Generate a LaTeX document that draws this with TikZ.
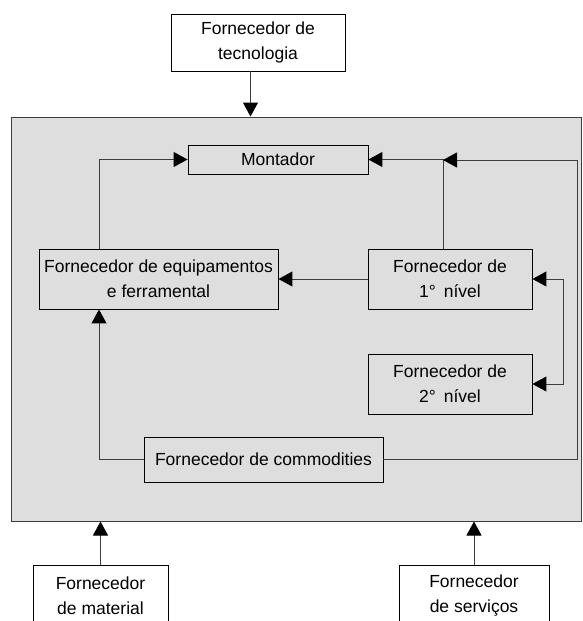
\documentclass[tikz,border=0pt]{standalone}
\usepackage{fontspec}
\setmainfont{Liberation Sans}
\usetikzlibrary{arrows.meta}
\definecolor{panel}{RGB}{222,222,222}
\definecolor{linegray}{RGB}{60,60,60}
\tikzset{
  box/.style={draw=black, line width=0.9pt, rectangle, align=center, inner sep=0pt,
    font=\fontsize{17.5}{25}\selectfont},
  conn/.style={draw=linegray, line width=1pt},
  >={Triangle[length=14pt,width=15pt,color=black]}
}
\begin{document}
\begin{tikzpicture}[x=1pt,y=-1pt]
\clip (0,0) rectangle (583,621);
\fill[white] (0,0) rectangle (583,621);
% main panel
\node[draw=linegray, fill=panel, line width=1pt, minimum width=570pt, minimum height=404pt, inner sep=0pt] (main) at (296,319) {};
% nodes
\node[box, fill=white, minimum width=174pt, minimum height=57pt] (tec) at (258,42.5) {Fornecedor de\\tecnologia};
\node[box, minimum width=180pt, minimum height=29pt] (mont) at (278,159.5) {Montador};
\node[box, minimum width=239pt, minimum height=60pt] (equip) at (158.5,279) {Fornecedor de equipamentos\\e ferramental};
\node[box, minimum width=164pt, minimum height=60pt] (n1) at (450,279) {Fornecedor de\\1°\hspace{0.45em}nível};
\node[box, minimum width=164pt, minimum height=60pt] (n2) at (450,384) {Fornecedor de\\2°\hspace{0.45em}nível};
\node[box, minimum width=239pt, minimum height=45pt] (comm) at (263.5,459.5) {Fornecedor de commodities};
\node[box, fill=white, minimum width=135pt, minimum height=62pt] (mat) at (100.5,596) {Fornecedor\\de material};
\node[box, fill=white, minimum width=150pt, minimum height=62pt] (serv) at (474,596) {Fornecedor\\de serviços};
% helper coordinates
\coordinate (xtec) at (250.5,0);
\coordinate (xleft) at (99,0);
\coordinate (xmid) at (443,0);
\coordinate (xright) at (577,0);
\coordinate (xdbl) at (563,0);
\coordinate (ytop) at (0,160);
% connectors
\draw[conn, ->] (tec.south -| xtec) -- (main.north -| xtec);
\draw[conn, ->] (equip.north -| xleft) |- (mont.west);
\draw[conn, ->] (n1.north -| xmid) |- (mont.east);
\draw[conn, ->] (comm.east) -| (xright |- ytop) -- (xmid |- ytop);
\draw[conn, ->] (n1.west) -- (equip.east);
\draw[conn, <->] (n1.east) -| (xdbl |- n2.east) -- (n2.east);
\draw[conn, ->] (comm.west) -| (equip.south -| xleft);
\draw[conn, ->] (mat.north) -- (main.south -| mat.north);
\draw[conn, ->] (serv.north) -- (main.south -| serv.north);
\end{tikzpicture}
\end{document}
